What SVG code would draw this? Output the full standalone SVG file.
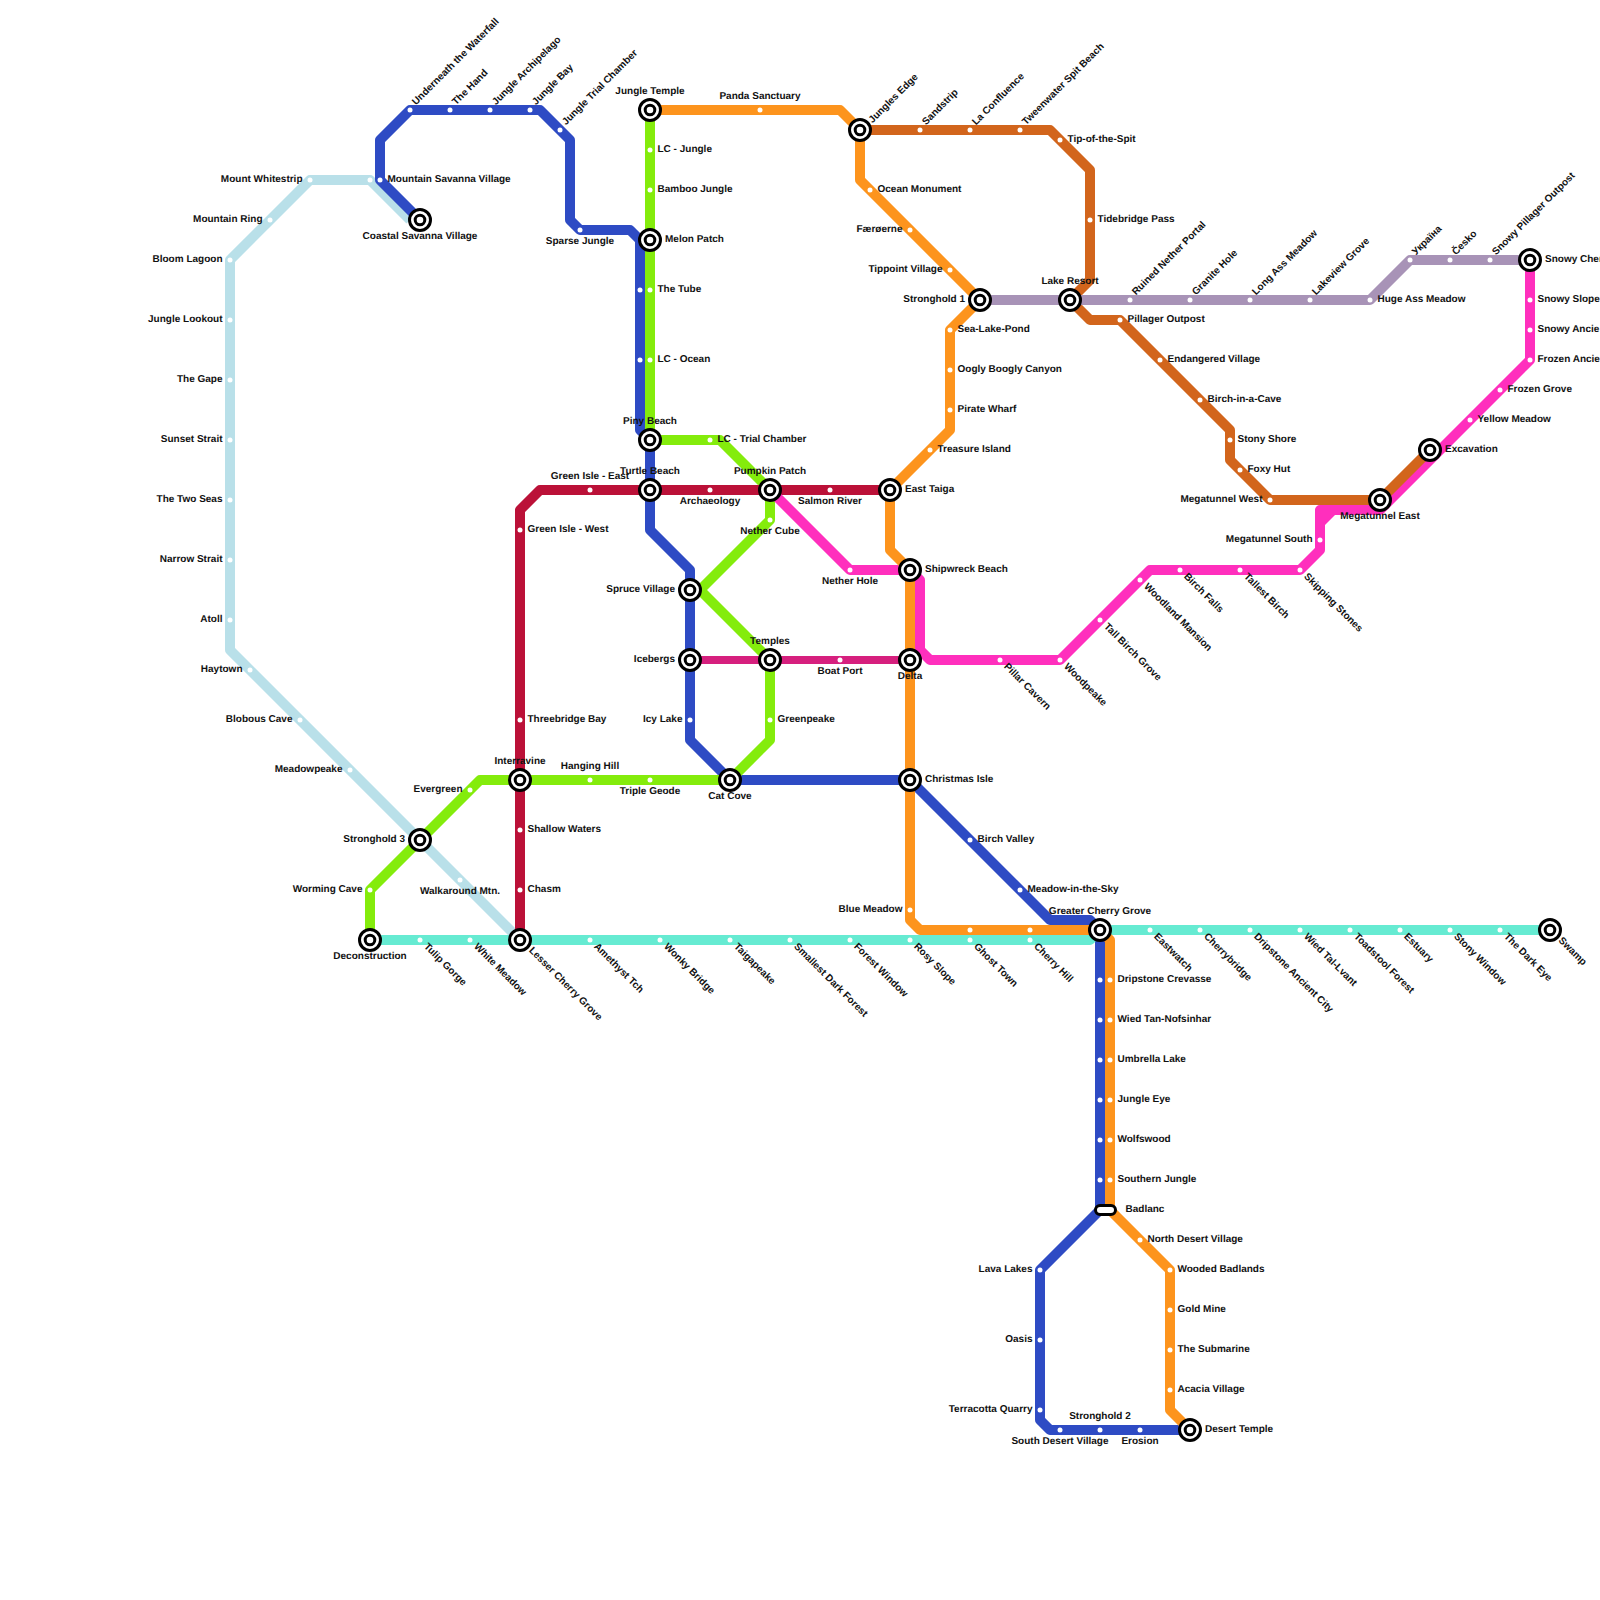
<svg xmlns="http://www.w3.org/2000/svg" width="1600" height="1600" viewBox="0 0 1600 1600">
<style>
.ln{fill:none;stroke-width:10;stroke-linejoin:round;stroke-linecap:butt}
circle.d{fill:#fff}
text{font-family:"Liberation Sans",Arial,sans-serif;font-size:10px;font-weight:bold;fill:#111;text-rendering:geometricPrecision}
text:not([transform]){transform:translateY(-.6px)}
.m{text-anchor:middle}.e{text-anchor:end}
</style>
<defs>
<g id="ix"><circle r="10.5" fill="#fff" stroke="#000" stroke-width="3"/><circle r="4.8" fill="#fff" stroke="#000" stroke-width="3"/></g>
</defs>
<rect width="1600" height="1600" fill="#fff"/>
<g id="connectors">
<path class="ln" stroke="#b9e0e9" d="M410 220L370 180H310L230 260V650L520 940"/>
<path class="ln" stroke="#2e4bc4" d="M420 220L380 180V140L410 110H540L570 140V220L580 230H630L640 240V430L650 440V530L690 570V740L730 780H910L1050 920H1090L1100 930V1210L1040 1270V1420L1050 1430H1190"/>
<path class="ln" stroke="#66ebd2" d="M370 940H1090L1100 930H1550"/>
<path class="ln" stroke="#84ec0c" d="M650 110V440H720L770 490V520L700 590L770 660V740L730 780H480L370 890V940"/>
<path class="ln" stroke="#bb1138" d="M890 490H540L520 510V940"/>
<path class="ln" stroke="#ff2fbd" d="M770 490L850 570H910L920 580V650L930 660H1060L1150 570H1300L1320 550V510H1380L1530 360V260"/>
<path class="ln" stroke="#fd941d" d="M650 110H840L860 130V180L980 300L950 330V430L890 490V550L910 570V920L920 930H1100L1110 940V1210L1170 1270V1410L1190 1430"/>
<path class="ln" stroke="#d2651c" d="M860 130H1050L1090 170V280L1070 300L1090 320H1120L1230 430V460L1270 500H1380L1430 450"/>
<path class="ln" stroke="#a893b7" d="M980 300H1370L1410 260H1530"/>
<path class="ln" stroke="#d6207e" style="stroke-width:8" d="M690 660H910"/>
<path fill="#ff2fbd" d="M1325 515H1335L1325 525Z"/>
</g>
<g id="nodes">
<g id="n1"><use href="#ix" x="420" y="220"/><text class="m" x="420" y="240">Coastal Savanna Village</text></g>
<g id="n2"><circle class="d" cx="370" cy="180" r="2.5"/><circle class="d" cx="380" cy="180" r="2.5"/><text x="387.500" y="182.500">Mountain Savanna Village</text></g>
<g id="n3"><circle class="d" cx="310" cy="180" r="2.5"/><text class="e" x="302.500" y="182.500">Mount Whitestrip</text></g>
<g id="n4"><circle class="d" cx="270" cy="220" r="2.5"/><text class="e" x="262.500" y="222.500">Mountain Ring</text></g>
<g id="n5"><circle class="d" cx="230" cy="260" r="2.5"/><text class="e" x="222.500" y="262.500">Bloom Lagoon</text></g>
<g id="n6"><circle class="d" cx="230" cy="320" r="2.5"/><text class="e" x="222.500" y="322.500">Jungle Lookout</text></g>
<g id="n7"><circle class="d" cx="230" cy="380" r="2.5"/><text class="e" x="222.500" y="382.500">The Gape</text></g>
<g id="n8"><circle class="d" cx="230" cy="440" r="2.5"/><text class="e" x="222.500" y="442.500">Sunset Strait</text></g>
<g id="n9"><circle class="d" cx="230" cy="500" r="2.5"/><text class="e" x="222.500" y="502.500">The Two Seas</text></g>
<g id="n10"><circle class="d" cx="230" cy="560" r="2.5"/><text class="e" x="222.500" y="562.500">Narrow Strait</text></g>
<g id="n11"><circle class="d" cx="230" cy="620" r="2.5"/><text class="e" x="222.500" y="622.500">Atoll</text></g>
<g id="n12"><circle class="d" cx="250" cy="670" r="2.5"/><text class="e" x="242.500" y="672.500">Haytown</text></g>
<g id="n13"><circle class="d" cx="300" cy="720" r="2.5"/><text class="e" x="292.500" y="722.500">Blobous Cave</text></g>
<g id="n14"><circle class="d" cx="350" cy="770" r="2.5"/><text class="e" x="342.500" y="772.500">Meadowpeake</text></g>
<g id="n15"><circle class="d" cx="460" cy="880" r="2.5"/><text class="m" x="460" y="895">Walkaround Mtn.</text></g>
<g id="n16"><use href="#ix" x="420" y="840"/><text class="e" x="405" y="842.500">Stronghold 3</text></g>
<g id="n17"><circle class="d" cx="470" cy="790" r="2.500"/><text class="e" x="462.500" y="792.500">Evergreen</text></g>
<g id="n18"><circle class="d" cx="370" cy="890" r="2.5"/><text class="e" x="362.500" y="892.500">Worming Cave</text></g>
<g id="n19"><use href="#ix" x="370" y="940"/><text class="m" x="370" y="960">Deconstruction</text></g>
<g id="n20"><use href="#ix" x="520" y="780"/><text class="m" x="520" y="765">Interravine</text></g>
<g id="n21"><use href="#ix" x="520" y="940"/><text transform="rotate(45 528.500 951)" x="528.500" y="951">Lesser Cherry Grove</text></g>
<g id="n22"><circle class="d" cx="520" cy="830" r="2.5"/><text x="527.500" y="832.500">Shallow Waters</text></g>
<g id="n23"><circle class="d" cx="520" cy="890" r="2.5"/><text x="527.500" y="892.500">Chasm</text></g>
<g id="n24"><circle class="d" cx="520" cy="720" r="2.5"/><text x="527.500" y="722.500">Threebridge Bay</text></g>
<g id="n25"><circle class="d" cx="520" cy="530" r="2.5"/><text x="527.500" y="532.500">Green Isle - West</text></g>
<g id="n26"><circle class="d" cx="590" cy="490" r="2.5"/><text class="m" x="590" y="480">Green Isle - East</text></g>
<g id="n27"><circle class="d" cx="590" cy="780" r="2.5"/><text class="m" x="590" y="770">Hanging Hill</text></g>
<g id="n28"><circle class="d" cx="650" cy="780" r="2.5"/><text class="m" x="650" y="795">Triple Geode</text></g>
<g id="n29"><use href="#ix" x="730" y="780"/><text class="m" x="730" y="800">Cat Cove</text></g>
<g id="n30"><circle class="d" cx="410" cy="110" r="2.5"/><text transform="rotate(-45 416 105.500)" x="416" y="105.500">Underneath the Waterfall</text></g>
<g id="n31"><circle class="d" cx="450" cy="110" r="2.5"/><text transform="rotate(-45 456 105.500)" x="456" y="105.500">The Hand</text></g>
<g id="n32"><circle class="d" cx="490" cy="110" r="2.5"/><text transform="rotate(-45 496 105.500)" x="496" y="105.500">Jungle Archipelago</text></g>
<g id="n33"><circle class="d" cx="530" cy="110" r="2.5"/><text transform="rotate(-45 536 105.500)" x="536" y="105.500">Jungle Bay</text></g>
<g id="n34"><circle class="d" cx="560" cy="130" r="2.5"/><text transform="rotate(-45 566 125.500)" x="566" y="125.500">Jungle Trial Chamber</text></g>
<g id="n35"><circle class="d" cx="580" cy="230" r="2.5"/><text class="m" x="580" y="245">Sparse Jungle</text></g>
<g id="n36"><use href="#ix" x="650" y="110"/><text class="m" x="650" y="95">Jungle Temple</text></g>
<g id="n37"><circle class="d" cx="650" cy="150" r="2.5"/><text x="657.500" y="152.500">LC - Jungle</text></g>
<g id="n38"><circle class="d" cx="650" cy="190" r="2.5"/><text x="657.500" y="192.500">Bamboo Jungle</text></g>
<g id="n39"><use href="#ix" x="650" y="240"/><text x="665" y="242.500">Melon Patch</text></g>
<g id="n40"><circle class="d" cx="640" cy="290" r="2.5"/><circle class="d" cx="650" cy="290" r="2.5"/><text x="657.500" y="292.500">The Tube</text></g>
<g id="n41"><circle class="d" cx="640" cy="360" r="2.5"/><circle class="d" cx="650" cy="360" r="2.5"/><text x="657.500" y="362.500">LC - Ocean</text></g>
<g id="n42"><use href="#ix" x="650" y="440"/><text class="m" x="650" y="425">Piny Beach</text></g>
<g id="n43"><circle class="d" cx="710" cy="440" r="2.5"/><text x="717.500" y="442.500">LC - Trial Chamber</text></g>
<g id="n44"><use href="#ix" x="650" y="490"/><text class="m" x="650" y="475">Turtle Beach</text></g>
<g id="n45"><circle class="d" cx="710" cy="490" r="2.5"/><text class="m" x="710" y="505">Archaeology</text></g>
<g id="n46"><use href="#ix" x="770" y="490"/><text class="m" x="770" y="475">Pumpkin Patch</text></g>
<g id="n47"><circle class="d" cx="830" cy="490" r="2.5"/><text class="m" x="830" y="505">Salmon River</text></g>
<g id="n48"><use href="#ix" x="890" y="490"/><text x="905" y="492.500">East Taiga</text></g>
<g id="n49"><circle class="d" cx="770" cy="520" r="2.5"/><text class="m" x="770" y="535">Nether Cube</text></g>
<g id="n50"><use href="#ix" x="690" y="590"/><text class="e" x="675" y="592.500">Spruce Village</text></g>
<g id="n51"><use href="#ix" x="690" y="660"/><text class="e" x="675" y="662.500">Icebergs</text></g>
<g id="n52"><circle class="d" cx="690" cy="720" r="2.5"/><text class="e" x="682.500" y="722.500">Icy Lake</text></g>
<g id="n53"><use href="#ix" x="770" y="660"/><text class="m" x="770" y="645">Temples</text></g>
<g id="n54"><circle class="d" cx="770" cy="720" r="2.5"/><text x="777.500" y="722.500">Greenpeake</text></g>
<g id="n55"><circle class="d" cx="840" cy="660" r="2.5"/><text class="m" x="840" y="675">Boat Port</text></g>
<g id="n56"><circle class="d" cx="850" cy="570" r="2.5"/><text class="m" x="850" y="585">Nether Hole</text></g>
<g id="n57"><use href="#ix" x="910" y="570"/><text x="925" y="572.500">Shipwreck Beach</text></g>
<g id="n58"><use href="#ix" x="910" y="660"/><text class="m" x="910" y="680">Delta</text></g>
<g id="n59"><use href="#ix" x="910" y="780"/><text x="925" y="782.500">Christmas Isle</text></g>
<g id="n60"><circle class="d" cx="970" cy="840" r="2.5"/><text x="977.500" y="842.500">Birch Valley</text></g>
<g id="n61"><circle class="d" cx="1020" cy="890" r="2.5"/><text x="1027.500" y="892.500">Meadow-in-the-Sky</text></g>
<g id="n62"><circle class="d" cx="910" cy="910" r="2.5"/><text class="e" x="902.500" y="912.500">Blue Meadow</text></g>
<g id="n63"><use href="#ix" x="1100" y="930"/><text class="m" x="1100" y="915">Greater Cherry Grove</text></g>
<g id="n64"><circle class="d" cx="760" cy="110" r="2.5"/><text class="m" x="760" y="100">Panda Sanctuary</text></g>
<g id="n65"><use href="#ix" x="860" y="130"/><text transform="rotate(-45 872.500 123.500)" x="872.500" y="123.500">Jungles Edge</text></g>
<g id="n66"><circle class="d" cx="870" cy="190" r="2.5"/><text x="877.500" y="192.500">Ocean Monument</text></g>
<g id="n67"><circle class="d" cx="910" cy="230" r="2.5"/><text class="e" x="902.500" y="232.500">Færøerne</text></g>
<g id="n68"><circle class="d" cx="950" cy="270" r="2.5"/><text class="e" x="942.500" y="272.500">Tippoint Village</text></g>
<g id="n69"><use href="#ix" x="980" y="300"/><text class="e" x="965" y="302.500">Stronghold 1</text></g>
<g id="n70"><circle class="d" cx="950" cy="330" r="2.5"/><text x="957.500" y="332.500">Sea-Lake-Pond</text></g>
<g id="n71"><circle class="d" cx="950" cy="370" r="2.5"/><text x="957.500" y="372.500">Oogly Boogly Canyon</text></g>
<g id="n72"><circle class="d" cx="950" cy="410" r="2.5"/><text x="957.500" y="412.500">Pirate Wharf</text></g>
<g id="n73"><circle class="d" cx="930" cy="450" r="2.5"/><text x="937.500" y="452.500">Treasure Island</text></g>
<g id="n74"><circle class="d" cx="920" cy="130" r="2.5"/><text transform="rotate(-45 926 125.500)" x="926" y="125.500">Sandstrip</text></g>
<g id="n75"><circle class="d" cx="970" cy="130" r="2.5"/><text transform="rotate(-45 976 125.500)" x="976" y="125.500">La Confluence</text></g>
<g id="n76"><circle class="d" cx="1020" cy="130" r="2.5"/><text transform="rotate(-45 1026 125.500)" x="1026" y="125.500">Tweenwater Spit Beach</text></g>
<g id="n77"><circle class="d" cx="1060" cy="140" r="2.5"/><text x="1067.500" y="142.500">Tip-of-the-Spit</text></g>
<g id="n78"><circle class="d" cx="1090" cy="220" r="2.5"/><text x="1097.500" y="222.500">Tidebridge Pass</text></g>
<g id="n79"><use href="#ix" x="1070" y="300"/><text class="m" x="1070" y="285">Lake Resort</text></g>
<g id="n80"><circle class="d" cx="1120" cy="320" r="2.5"/><text x="1127.500" y="322.500">Pillager Outpost</text></g>
<g id="n81"><circle class="d" cx="1160" cy="360" r="2.5"/><text x="1167.500" y="362.500">Endangered Village</text></g>
<g id="n82"><circle class="d" cx="1200" cy="400" r="2.5"/><text x="1207.500" y="402.500">Birch-in-a-Cave</text></g>
<g id="n83"><circle class="d" cx="1230" cy="440" r="2.5"/><text x="1237.500" y="442.500">Stony Shore</text></g>
<g id="n84"><circle class="d" cx="1240" cy="470" r="2.5"/><text x="1247.500" y="472.500">Foxy Hut</text></g>
<g id="n85"><circle class="d" cx="1270" cy="500" r="2.5"/><text class="e" x="1262.500" y="502.500">Megatunnel West</text></g>
<g id="n86"><use href="#ix" x="1380" y="500"/><text class="m" x="1380" y="520">Megatunnel East</text></g>
<g id="n87"><use href="#ix" x="1430" y="450"/><text x="1445" y="452.500">Excavation</text></g>
<g id="n88"><circle class="d" cx="1320" cy="540" r="2.5"/><text class="e" x="1312.500" y="542.500">Megatunnel South</text></g>
<g id="n89"><circle class="d" cx="1470" cy="420" r="2.5"/><text x="1477.500" y="422.500">Yellow Meadow</text></g>
<g id="n90"><circle class="d" cx="1500" cy="390" r="2.5"/><text x="1507.500" y="392.500">Frozen Grove</text></g>
<g id="n91"><circle class="d" cx="1530" cy="360" r="2.5"/><text x="1537.500" y="362.500">Frozen Ancie</text></g>
<g id="n92"><circle class="d" cx="1530" cy="330" r="2.5"/><text x="1537.500" y="332.500">Snowy Ancie</text></g>
<g id="n93"><circle class="d" cx="1530" cy="300" r="2.5"/><text x="1537.500" y="302.500">Snowy Slope</text></g>
<g id="n94"><use href="#ix" x="1530" y="260"/><text x="1545" y="262.500">Snowy Cher</text></g>
<g id="n95"><circle class="d" cx="1130" cy="300" r="2.5"/><text transform="rotate(-45 1136 295.500)" x="1136" y="295.500">Ruined Nether Portal</text></g>
<g id="n96"><circle class="d" cx="1190" cy="300" r="2.5"/><text transform="rotate(-45 1196 295.500)" x="1196" y="295.500">Granite Hole</text></g>
<g id="n97"><circle class="d" cx="1250" cy="300" r="2.5"/><text transform="rotate(-45 1256 295.500)" x="1256" y="295.500">Long Ass Meadow</text></g>
<g id="n98"><circle class="d" cx="1310" cy="300" r="2.5"/><text transform="rotate(-45 1316 295.500)" x="1316" y="295.500">Lakeview Grove</text></g>
<g id="n99"><circle class="d" cx="1370" cy="300" r="2.5"/><text x="1377.500" y="302.500">Huge Ass Meadow</text></g>
<g id="n100"><circle class="d" cx="1410" cy="260" r="2.5"/><text transform="rotate(-45 1416 255.500)" x="1416" y="255.500">Україна</text></g>
<g id="n101"><circle class="d" cx="1450" cy="260" r="2.5"/><text transform="rotate(-45 1456 255.500)" x="1456" y="255.500">Česko</text></g>
<g id="n102"><circle class="d" cx="1490" cy="260" r="2.5"/><text transform="rotate(-45 1496 255.500)" x="1496" y="255.500">Snowy Pillager Outpost</text></g>
<g id="n103"><circle class="d" cx="1000" cy="660" r="2.5"/><text transform="rotate(45 1003.500 667)" x="1003.500" y="667">Pillar Cavern</text></g>
<g id="n104"><circle class="d" cx="1060" cy="660" r="2.5"/><text transform="rotate(45 1063.500 667)" x="1063.500" y="667">Woodpeake</text></g>
<g id="n105"><circle class="d" cx="1100" cy="620" r="2.5"/><text transform="rotate(45 1103.500 627)" x="1103.500" y="627">Tall Birch Grove</text></g>
<g id="n106"><circle class="d" cx="1140" cy="580" r="2.5"/><text transform="rotate(45 1143.500 587)" x="1143.500" y="587">Woodland Mansion</text></g>
<g id="n107"><circle class="d" cx="1180" cy="570" r="2.5"/><text transform="rotate(45 1183.500 577)" x="1183.500" y="577">Birch Falls</text></g>
<g id="n108"><circle class="d" cx="1240" cy="570" r="2.5"/><text transform="rotate(45 1243.500 577)" x="1243.500" y="577">Tallest Birch</text></g>
<g id="n109"><circle class="d" cx="1300" cy="570" r="2.5"/><text transform="rotate(45 1303.500 577)" x="1303.500" y="577">Skipping Stones</text></g>
<g id="n110"><circle class="d" cx="420" cy="940" r="2.5"/><text transform="rotate(45 423.500 947)" x="423.500" y="947">Tulip Gorge</text></g>
<g id="n111"><circle class="d" cx="470" cy="940" r="2.5"/><text transform="rotate(45 473.500 947)" x="473.500" y="947">White Meadow</text></g>
<g id="n112"><circle class="d" cx="590" cy="940" r="2.5"/><text transform="rotate(45 593.500 947)" x="593.500" y="947">Amethyst Tch</text></g>
<g id="n113"><circle class="d" cx="660" cy="940" r="2.5"/><text transform="rotate(45 663.500 947)" x="663.500" y="947">Wonky Bridge</text></g>
<g id="n114"><circle class="d" cx="730" cy="940" r="2.5"/><text transform="rotate(45 733.500 947)" x="733.500" y="947">Taigapeake</text></g>
<g id="n115"><circle class="d" cx="790" cy="940" r="2.5"/><text transform="rotate(45 793.500 947)" x="793.500" y="947">Smallest Dark Forest</text></g>
<g id="n116"><circle class="d" cx="850" cy="940" r="2.5"/><text transform="rotate(45 853.500 947)" x="853.500" y="947">Forest Window</text></g>
<g id="n117"><circle class="d" cx="910" cy="940" r="2.5"/><text transform="rotate(45 913.500 947)" x="913.500" y="947">Rosy Slope</text></g>
<g id="n118"><circle class="d" cx="970" cy="930" r="2.5"/><circle class="d" cx="970" cy="940" r="2.5"/><text transform="rotate(45 973.500 947)" x="973.500" y="947">Ghost Town</text></g>
<g id="n119"><circle class="d" cx="1030" cy="930" r="2.5"/><circle class="d" cx="1030" cy="940" r="2.5"/><text transform="rotate(45 1033.500 947)" x="1033.500" y="947">Cherry Hill</text></g>
<g id="n120"><circle class="d" cx="1150" cy="930" r="2.5"/><text transform="rotate(45 1153.500 937)" x="1153.500" y="937">Eastwatch</text></g>
<g id="n121"><circle class="d" cx="1200" cy="930" r="2.5"/><text transform="rotate(45 1203.500 937)" x="1203.500" y="937">Cherrybridge</text></g>
<g id="n122"><circle class="d" cx="1250" cy="930" r="2.5"/><text transform="rotate(45 1253.500 937)" x="1253.500" y="937">Dripstone Ancient City</text></g>
<g id="n123"><circle class="d" cx="1300" cy="930" r="2.5"/><text transform="rotate(45 1303.500 937)" x="1303.500" y="937">Wied Tal-Lvant</text></g>
<g id="n124"><circle class="d" cx="1350" cy="930" r="2.5"/><text transform="rotate(45 1353.500 937)" x="1353.500" y="937">Toadstool Forest</text></g>
<g id="n125"><circle class="d" cx="1400" cy="930" r="2.5"/><text transform="rotate(45 1403.500 937)" x="1403.500" y="937">Estuary</text></g>
<g id="n126"><circle class="d" cx="1450" cy="930" r="2.5"/><text transform="rotate(45 1453.500 937)" x="1453.500" y="937">Stony Window</text></g>
<g id="n127"><circle class="d" cx="1500" cy="930" r="2.5"/><text transform="rotate(45 1503.500 937)" x="1503.500" y="937">The Dark Eye</text></g>
<g id="n128"><use href="#ix" x="1550" y="930"/><text transform="rotate(45 1558 941)" x="1558" y="941">Swamp</text></g>
<g id="n129"><circle class="d" cx="1100" cy="980" r="2.5"/><circle class="d" cx="1110" cy="980" r="2.5"/><text x="1117.500" y="982.500">Dripstone Crevasse</text></g>
<g id="n130"><circle class="d" cx="1100" cy="1020" r="2.5"/><circle class="d" cx="1110" cy="1020" r="2.5"/><text x="1117.500" y="1022.500">Wied Tan-Nofsinhar</text></g>
<g id="n131"><circle class="d" cx="1100" cy="1060" r="2.5"/><circle class="d" cx="1110" cy="1060" r="2.5"/><text x="1117.500" y="1062.500">Umbrella Lake</text></g>
<g id="n132"><circle class="d" cx="1100" cy="1100" r="2.5"/><circle class="d" cx="1110" cy="1100" r="2.5"/><text x="1117.500" y="1102.500">Jungle Eye</text></g>
<g id="n133"><circle class="d" cx="1100" cy="1140" r="2.5"/><circle class="d" cx="1110" cy="1140" r="2.5"/><text x="1117.500" y="1142.500">Wolfswood</text></g>
<g id="n134"><circle class="d" cx="1100" cy="1180" r="2.5"/><circle class="d" cx="1110" cy="1180" r="2.5"/><text x="1117.500" y="1182.500">Southern Jungle</text></g>
<g id="n135"><rect x="1095.500" y="1205.500" width="20" height="9" rx="4.500" fill="#fff" stroke="#000" stroke-width="3"/><text x="1125.500" y="1212.500">Badlanc</text></g>
<g id="n136"><circle class="d" cx="1140" cy="1240" r="2.5"/><text x="1147.500" y="1242.500">North Desert Village</text></g>
<g id="n137"><circle class="d" cx="1170" cy="1270" r="2.5"/><text x="1177.500" y="1272.500">Wooded Badlands</text></g>
<g id="n138"><circle class="d" cx="1170" cy="1310" r="2.5"/><text x="1177.500" y="1312.500">Gold Mine</text></g>
<g id="n139"><circle class="d" cx="1170" cy="1350" r="2.5"/><text x="1177.500" y="1352.500">The Submarine</text></g>
<g id="n140"><circle class="d" cx="1170" cy="1390" r="2.5"/><text x="1177.500" y="1392.500">Acacia Village</text></g>
<g id="n141"><use href="#ix" x="1190" y="1430"/><text x="1205" y="1432.500">Desert Temple</text></g>
<g id="n142"><circle class="d" cx="1040" cy="1270" r="2.5"/><text class="e" x="1032.500" y="1272.500">Lava Lakes</text></g>
<g id="n143"><circle class="d" cx="1040" cy="1340" r="2.5"/><text class="e" x="1032.500" y="1342.500">Oasis</text></g>
<g id="n144"><circle class="d" cx="1040" cy="1410" r="2.5"/><text class="e" x="1032.500" y="1412.500">Terracotta Quarry</text></g>
<g id="n145"><circle class="d" cx="1060" cy="1430" r="2.5"/><text class="m" x="1060" y="1445">South Desert Village</text></g>
<g id="n146"><circle class="d" cx="1100" cy="1430" r="2.5"/><text class="m" x="1100" y="1420">Stronghold 2</text></g>
<g id="n147"><circle class="d" cx="1140" cy="1430" r="2.5"/><text class="m" x="1140" y="1445">Erosion</text></g>
</g>
</svg>
